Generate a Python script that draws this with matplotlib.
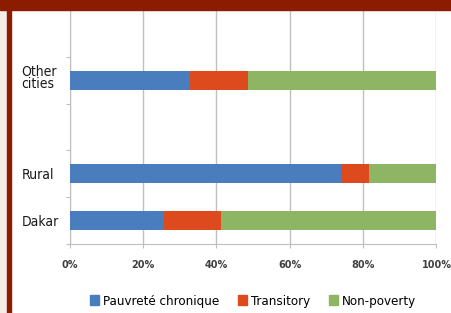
import os
import numpy as np
import matplotlib.pyplot as plt
import matplotlib.transforms as mtransforms
from matplotlib.patches import Rectangle, Patch
from matplotlib import font_manager

# categories from bottom to top (blank slots are empty rows in the chart)
categories = ["Dakar", "Rural", "", "Other\ncities", ""]
chronic = [25.7, 74.0, np.nan, 32.8, np.nan]
transitory = [15.6, 7.5, np.nan, 15.8, np.nan]
non_poverty = [58.7, 18.5, np.nan, 51.4, np.nan]
series_names = ["Pauvreté chronique", "Transitory", "Non-poverty"]
xticks = [0, 20, 40, 60, 80, 100]

colors = ["#4a7dbd", "#dd4a1e", "#8db564"]

# condensed sans for the labels (the original uses a narrow face)
cond = [f.fname for f in font_manager.fontManager.ttflist
        if os.path.basename(f.fname) == "DejaVuSansCondensed.ttf"]


def narrow(size):
    if cond:
        return font_manager.FontProperties(fname=cond[0], size=size)
    return font_manager.FontProperties(family="DejaVu Sans", stretch="condensed", size=size)


fig = plt.figure(figsize=(4.51, 3.13), dpi=100)
ax = fig.add_axes([69.5 / 451, 1 - 244 / 313, 367 / 451, 234 / 313])

y = np.arange(len(categories))
left = np.zeros(len(categories))
for vals, col, name in zip([chronic, transitory, non_poverty], colors, series_names):
    v = np.array(vals, dtype=float)
    ax.barh(y, v, left=left, height=0.4, color=col, label=name, zorder=3)
    left = left + np.nan_to_num(v)

ax.set_xlim(0, 100)
ax.set_ylim(-0.5, len(categories) - 0.5)
ax.set_xticks(xticks)
ax.set_xticklabels([f"{t}%" for t in xticks], fontsize=7, fontweight="bold",
                   color="#404040", family="DejaVu Sans")
ax.tick_params(axis="x", length=3, color="#bfbfbf", pad=8.5)

# ticks on slot borders, labels in the middle
ax.set_yticks(np.arange(-0.5, len(categories), 1.0))
ax.set_yticklabels([])
ax.set_yticks(y, minor=True)
ylabels = ax.set_yticklabels(categories, minor=True, ha="left", color="#1a1a1a",
                             linespacing=0.8)
ax.tick_params(axis="y", which="major", length=3, color="#bfbfbf")
ax.tick_params(axis="y", which="minor", length=0, pad=34.4)
for t in ylabels:
    t.set_fontproperties(narrow(10))
    if "\n" in t.get_text():
        # two-line label sits a little above the bar centre
        t.set_transform(t.get_transform() +
                        mtransforms.ScaledTranslation(0, 3 / 100, fig.dpi_scale_trans))

ax.grid(axis="x", color="#c0c0c0", lw=1, zorder=0)
for s in ["top", "right"]:
    ax.spines[s].set_visible(False)
for s in ["left", "bottom"]:
    ax.spines[s].set_color("#bfbfbf")

handles = [Patch(color=c) for c in colors]
fig.legend(handles, series_names, loc="center", bbox_to_anchor=(253 / 451, 1 - 301 / 313),
           ncol=3, frameon=False, prop=narrow(9.5),
           handlelength=0.7, handleheight=0.7, handletextpad=0.3, columnspacing=1.4)

# page decoration: red band on top, beige strip and red rule on the left
fig.patches.append(Rectangle((0, 1 - 10 / 313), 1, 10 / 313, transform=fig.transFigure,
                             color="#8b1c00", zorder=5))
fig.patches.append(Rectangle((0, 0), 7 / 451, 1, transform=fig.transFigure,
                             color="#f6ece7", zorder=4))
fig.patches.append(Rectangle((7 / 451, 0), 4 / 451, 1, transform=fig.transFigure,
                             color="#8b1c00", zorder=4))

fig.savefig("out.png", dpi=100)
